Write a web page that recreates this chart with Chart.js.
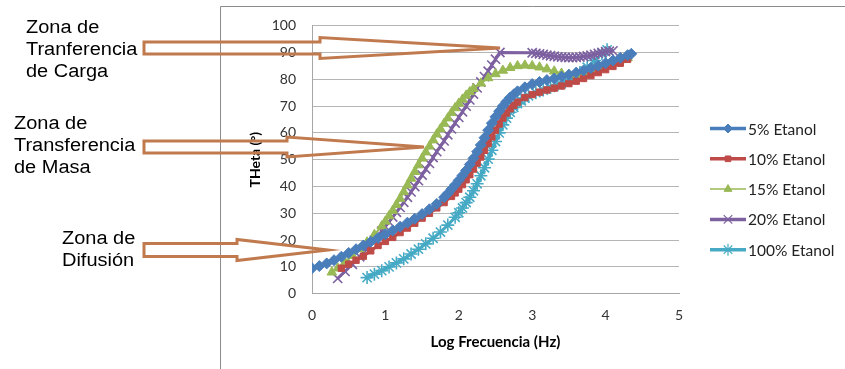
<!DOCTYPE html>
<html>
<head>
<meta charset="utf-8">
<script src="https://cdn.jsdelivr.net/npm/chart.js@4.4.0/dist/chart.umd.min.js"></script>
<style>
  html, body { margin: 0; padding: 0; background: #fff; }
</style>
</head>
<body>
<canvas id="grafico" width="845" height="369"></canvas>
<script>
const etiquetas = ["5% Etanol", "10% Etanol", "15% Etanol", "20% Etanol", "100% Etanol"];
const colores = ["#4a7ebb", "#be4b48", "#98b954", "#7d60a0", "#46aac5"];
const marcadores = ["rectRot", "rect", "triangle", "crossRot", "star"];

// 5% Etanol
const x05 = [0,0.1,0.2,0.3,0.4,0.5,0.6,0.7,0.8,0.9,1.0,1.1,1.2,1.3,1.4,1.5,1.6,1.7,1.8,1.85,1.9,1.95,2.0,2.05,2.1,2.15,2.2,2.25,2.3,2.35,2.4,2.45,2.5,2.55,2.6,2.65,2.7,2.75,2.8,2.9,3.0,3.1,3.2,3.3,3.4,3.5,3.6,3.7,3.8,3.9,4.0,4.1,4.2,4.3,4.35];
const y05 = [9.5,10.3,11.3,12.5,13.8,15.2,16.6,18,19.4,20.8,22.2,23.6,25,26.5,28,29.7,31.5,33.5,36,37.4,39,40.6,42.3,44.1,46,48.2,50.5,53,55.5,58.2,61,63.6,66,68.1,70,71.7,73.2,74.4,75.5,77,78.2,79,79.7,80.3,81,81.7,82.5,83.3,84.2,85.1,86,87,88,89,89.5];

// 10% Etanol
const x10 = [0.4,0.5,0.6,0.7,0.8,0.9,1.0,1.1,1.2,1.3,1.4,1.5,1.6,1.7,1.8,1.9,1.95,2.0,2.05,2.1,2.15,2.2,2.25,2.3,2.35,2.4,2.45,2.5,2.55,2.6,2.65,2.7,2.75,2.8,2.9,3.0,3.1,3.2,3.3,3.4,3.5,3.6,3.7,3.8,3.9,4.0,4.1,4.2,4.3];
const y10 = [9.5,11,12.5,14,16,18,19.5,21,22.8,24.5,26.3,28.2,30,32,34,36.3,37.6,39,40.7,42.5,44.4,46.5,48.7,51,53.5,56,58.5,61,63.3,65.5,67.4,69,70.3,71.5,73.2,74.3,75.2,76,76.7,77.5,78.4,79.3,80.3,81.4,82.5,83.6,84.8,86,87.5];

// 15% Etanol
const x15 = [0.27,0.35,0.45,0.55,0.65,0.75,0.85,0.95,1.0,1.05,1.1,1.15,1.2,1.25,1.3,1.35,1.4,1.45,1.5,1.55,1.6,1.65,1.7,1.75,1.8,1.85,1.9,1.95,2.0,2.05,2.1,2.15,2.2,2.3,2.4,2.5,2.6,2.7,2.8,2.9,3.0,3.1,3.2,3.3,3.4,3.5,3.6,3.7,3.8,3.9,4.0,4.1,4.2,4.3];
const y15 = [8,9.5,11.7,14.2,16.7,19.2,22,25.2,27,29,31,33.2,35.5,38,40.5,43,45.5,48,50.5,52.8,55,57.3,59.5,61.5,63.5,65.5,67.5,69.3,71,72.5,74,75.3,76.5,78.5,80.5,82,83.3,84.3,85,85.2,85,84.5,83.8,83,82.2,81.7,81.8,82.5,83.5,84.5,85.5,86.3,87.2,88];

// 20% Etanol
const x20 = [0.35,0.45,0.55,0.65,0.75,0.85,0.95,1.0,1.05,1.1,1.15,1.2,1.25,1.3,1.35,1.4,1.45,1.5,1.55,1.6,1.65,1.7,1.75,1.8,1.85,1.9,1.95,2.0,2.05,2.1,2.15,2.2,2.25,2.3,2.35,2.4,2.45,2.5,2.56,3.0,3.05,3.1,3.15,3.2,3.25,3.3,3.35,3.4,3.45,3.5,3.55,3.6,3.65,3.7,3.75,3.8,3.85,3.9,3.95,4.0,4.05,4.1];
const y20 = [5.7,8.3,11,13.8,16.8,20,23.3,25,26.8,28.6,30.4,32.2,34.1,36,38,40,42.2,44.3,46.5,48.6,50.8,53,55,57,59.3,61.5,63.7,65.8,67.9,70,72.3,74.5,76.8,79,81,83,85.3,87.5,90,89.9,89.7,89.5,89.3,89,88.8,88.6,88.4,88.3,88.2,88.1,88.1,88.2,88.3,88.5,88.7,89,89.3,89.7,90,90.3,90.5,90.6];

// 100% Etanol
const x100 = [0.75,0.85,0.95,1.05,1.15,1.25,1.35,1.45,1.55,1.65,1.75,1.85,1.95,2.0,2.05,2.1,2.15,2.2,2.25,2.3,2.35,2.4,2.45,2.5,2.55,2.6,2.65,2.7,2.75,2.8,2.85,2.9,2.95,3.05,3.15,3.25,3.35,3.45,3.55,3.65,3.75,3.85,3.95,4.02];
const y100 = [6,7.3,8.6,10,11.5,13,14.8,16.6,18.6,20.7,23,25.6,28.5,30.2,32,34,36,38.4,41,44,47,50.2,53.5,56.8,60,63,65.5,67.7,69.5,70.9,72,73,73.8,75,76,77,78,79,80.5,82.5,84.5,87,89.5,91];

const seriesX = [x05, x10, x15, x20, x100];
const seriesY = [y05, y10, y15, y20, y100];

const radios = [5.5, 4.5, 5.5, 6.5, 6.5];
const radiosLeyenda = [4.5, 4, 4.5, 6, 6];
const grosores = [3, 3, 2, 3, 3];

const datasets = etiquetas.map((nombre, i) => ({
  label: nombre,
  data: seriesX[i].map((x, j) => ({ x: x, y: seriesY[i][j] })),
  showLine: true,
  borderColor: colores[i],
  backgroundColor: colores[i],
  borderWidth: grosores[i],
  pointStyle: marcadores[i],
  pointRadius: radios[i],
  pointBorderWidth: i >= 3 ? 1.6 : 1,
  pointBackgroundColor: colores[i],
  pointBorderColor: colores[i],
}));

const marron = "#c07a4e";

function flecha(ctx, x0, xb, xt, yc, hCola, hPunta) {
  ctx.beginPath();
  ctx.moveTo(x0, yc - hCola);
  ctx.lineTo(xb, yc - hCola);
  ctx.lineTo(xb, yc - hPunta);
  ctx.lineTo(xt, yc);
  ctx.lineTo(xb, yc + hPunta);
  ctx.lineTo(xb, yc + hCola);
  ctx.lineTo(x0, yc + hCola);
  ctx.closePath();
  ctx.stroke();
}

function texto(ctx, t, x, y) {
  ctx.save();
  ctx.translate(x, y);
  ctx.scale(1.11, 1);
  ctx.fillText(t, 0, 0);
  ctx.restore();
}

const decoracion = {
  id: "decoracion",
  beforeDraw(chart) {
    const ctx = chart.ctx;
    ctx.save();
    ctx.strokeStyle = "#8c8c8c";
    ctx.lineWidth = 1;
    ctx.beginPath();
    ctx.moveTo(220.5, 369);
    ctx.lineTo(220.5, 6.5);
    ctx.lineTo(845, 6.5);
    ctx.stroke();
    ctx.restore();
  },
  afterDatasetsDraw(chart) {
    const ctx = chart.ctx;
    ctx.save();
    ctx.strokeStyle = marron;
    ctx.lineWidth = 3;
    flecha(ctx, 144, 320, 500, 48, 6, 10.5);
    flecha(ctx, 144, 287, 424, 147, 6, 10);
    flecha(ctx, 144, 237, 328, 250, 6.5, 10.5);
    ctx.restore();
  },
  afterDraw(chart) {
    const ctx = chart.ctx;
    ctx.save();
    // zonas
    ctx.fillStyle = "#000";
    ctx.font = '18px "Liberation Sans", Arial, sans-serif';
    ctx.textBaseline = "middle";
    ctx.textAlign = "left";
    texto(ctx, "Zona de", 26, 28);
    texto(ctx, "Tranferencia", 26, 50);
    texto(ctx, "de Carga", 26, 72);
    texto(ctx, "Zona de", 14, 124);
    texto(ctx, "Transferencia", 14, 146);
    texto(ctx, "de Masa", 14, 168);
    texto(ctx, "Zona de", 62, 239);
    texto(ctx, "Difusión", 62, 261);

    // leyenda
    ctx.font = '15.5px Lato, sans-serif';
    etiquetas.forEach((nombre, i) => {
      const y = 128.5 + i * 30.3;
      ctx.strokeStyle = colores[i];
      ctx.fillStyle = colores[i];
      ctx.lineWidth = i === 2 ? 1.5 : 3.5;
      ctx.beginPath();
      ctx.moveTo(710, y);
      ctx.lineTo(746, y);
      ctx.stroke();
      ctx.lineWidth = i >= 3 ? 1.2 : 1;
      Chart.helpers.drawPoint(ctx, {
        pointStyle: marcadores[i],
        radius: radiosLeyenda[i],
        rotation: 0,
        borderWidth: i >= 3 ? 1.2 : 1,
      }, 728, y);
      ctx.fillStyle = "#222";
      ctx.fillText(nombre, 748, y + 1);
    });
    ctx.restore();
  },
};

new Chart(document.getElementById("grafico"), {
  type: "scatter",
  data: { datasets: datasets },
  plugins: [decoracion],
  options: {
    responsive: false,
    animation: false,
    layout: { padding: { left: 220, right: 166, top: 25.7, bottom: 0 } },
    plugins: {
      legend: { display: false },
      tooltip: { enabled: false },
    },
    scales: {
      x: {
        type: "linear",
        min: 0,
        max: 5,
        ticks: { stepSize: 1, padding: 13, color: "#333", font: { family: "Lato", size: 14 } },
        grid: { display: false, drawTicks: false },
        border: { color: "#a6a6a6" },
        title: {
          display: true,
          text: "Log Frecuencia (Hz)",
          color: "#000",
          font: { family: "Lato", size: 15, weight: "bold" },
          padding: { top: 0, bottom: 18 },
        },
        afterFit(scale) { scale.height = 75.3; },
      },
      y: {
        min: 0,
        max: 100,
        ticks: { stepSize: 10, padding: 16, color: "#333", font: { family: "Lato", size: 14 } },
        grid: { color: "#b5b5b5", drawTicks: false },
        border: { color: "#a6a6a6" },
        title: {
          display: true,
          text: "THeta (°)",
          color: "#000",
          font: { family: "Lato", size: 14, weight: "bold" },
          padding: { top: 27, bottom: 0 },
        },
        afterFit(scale) { scale.width = 92; },
      },
    },
  },
});
</script>
</body>
</html>
